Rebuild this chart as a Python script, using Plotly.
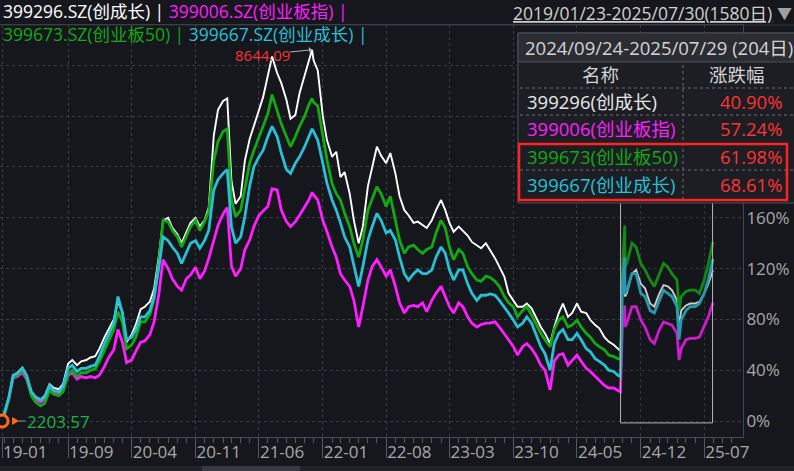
import plotly.graph_objects as go
import pandas as pd

# ---------------- data (percent change since 2019-01-23) ----------------
dates = [
    "2019-01-23", "2019-02-01", "2019-02-15", "2019-03-01", "2019-03-15", "2019-04-01", "2019-04-15",
    "2019-05-01", "2019-05-15", "2019-06-01", "2019-06-15", "2019-07-01", "2019-07-15", "2019-08-01",
    "2019-08-15", "2019-09-01", "2019-09-15", "2019-10-01", "2019-10-15", "2019-11-01", "2019-11-15",
    "2019-12-01", "2019-12-15",
    "2020-01-01", "2020-01-15", "2020-02-01", "2020-02-15", "2020-03-01", "2020-03-15", "2020-04-01",
    "2020-04-15", "2020-05-01", "2020-05-15", "2020-06-01", "2020-06-15", "2020-07-01", "2020-07-15",
    "2020-08-01", "2020-08-15", "2020-09-01", "2020-09-15", "2020-10-01", "2020-10-15", "2020-11-01",
    "2020-11-15", "2020-12-01", "2020-12-15",
    "2021-01-01", "2021-01-15", "2021-02-01", "2021-02-15", "2021-03-01", "2021-03-15", "2021-04-01",
    "2021-04-15", "2021-05-01", "2021-05-15", "2021-06-01", "2021-06-15", "2021-07-01", "2021-07-15",
    "2021-08-01", "2021-08-15", "2021-09-01", "2021-09-15", "2021-10-01", "2021-10-15", "2021-11-01",
    "2021-11-15", "2021-11-26", "2021-12-01", "2021-12-15",
    "2022-01-01", "2022-01-15", "2022-02-01", "2022-02-15", "2022-03-01", "2022-03-15", "2022-04-01",
    "2022-04-15", "2022-05-01", "2022-05-15", "2022-06-01", "2022-06-15", "2022-07-01", "2022-07-15",
    "2022-08-01", "2022-08-15", "2022-09-01", "2022-09-15", "2022-10-01", "2022-10-15", "2022-11-01",
    "2022-11-15", "2022-12-01", "2022-12-15",
    "2023-01-01", "2023-01-15", "2023-02-01", "2023-02-15", "2023-03-01", "2023-03-15", "2023-04-01",
    "2023-04-15", "2023-05-01", "2023-05-15", "2023-06-01", "2023-06-15", "2023-07-01", "2023-07-15",
    "2023-08-01", "2023-08-15", "2023-09-01", "2023-09-15", "2023-10-01", "2023-10-15", "2023-11-01",
    "2023-11-15", "2023-12-01", "2023-12-15",
    "2024-01-01", "2024-01-15", "2024-02-01", "2024-02-15", "2024-03-01", "2024-03-15", "2024-04-01",
    "2024-04-15", "2024-05-01", "2024-05-15", "2024-06-01", "2024-06-15", "2024-07-01", "2024-07-15",
    "2024-08-01", "2024-08-15", "2024-09-01", "2024-09-15", "2024-09-24", "2024-09-27", "2024-09-30",
    "2024-10-08", "2024-10-09", "2024-10-15", "2024-11-01", "2024-11-15", "2024-12-01", "2024-12-15",
    "2025-01-01", "2025-01-15", "2025-02-01", "2025-02-15", "2025-03-01", "2025-03-15", "2025-04-01",
    "2025-04-08", "2025-04-15", "2025-05-01", "2025-05-15", "2025-06-01", "2025-06-15", "2025-07-01",
    "2025-07-15", "2025-07-30",
]

# 399296.SZ 创成长 (white)
s399296 = [
    0, 7, 19, 36, 38, 42, 36, 23, 19, 17, 20, 29, 26, 25, 29, 45, 48, 44, 47, 48, 50, 51, 57,
    66, 72, 80, 94, 86, 62, 68, 76, 88, 90, 94, 104, 130, 158, 160, 152, 147, 140, 148, 156, 160, 153, 158, 168,
    225, 245, 252, 254, 189, 171, 177, 205, 222, 232, 245, 255, 272, 287, 274, 266, 253, 238, 241, 258, 272,
    284, 292.3, 284, 276,
    240, 221, 208, 212, 192, 196, 179, 158, 140, 153, 185, 200, 216, 209, 203, 211, 195, 177, 166, 162, 156,
    157, 154, 152,
    158, 166, 174, 166, 156, 149, 153, 150, 146, 141, 138, 136, 140, 135, 128, 121.5, 113.6, 100.5, 95, 90, 90,
    92.5, 88.7, 82,
    74, 69, 61, 74, 85, 92.5, 82, 85, 92.5, 86, 85, 79.5, 75.5, 73, 66, 62.5, 60, 57, 55, 79.5, 106,
    119, 98, 100.5, 116, 119, 108, 104.5,
    92.5, 90, 100.5, 107, 106, 103, 95, 74, 87, 91, 92.5, 92.5, 94, 100.5, 108, 118.5,
]

# 399006.SZ 创业板指 (magenta)
s399006 = [
    0, 6, 18, 34, 35, 38, 33, 21, 17, 15, 17, 25, 22, 21, 24, 36, 38, 33, 35, 34, 35, 34, 36,
    43, 50, 56, 72, 62, 46, 48, 55, 62, 63, 68, 78, 100, 127, 120, 112, 106, 103, 112, 115, 121, 112, 118, 128,
    143, 154, 163, 168, 122, 114, 120, 135, 142.5, 153, 162, 165, 169, 183, 182, 166, 157, 153, 157, 162, 169,
    174, 180, 178, 174,
    158, 149, 137, 129, 116, 111, 106, 95, 74, 90, 111, 121.5, 127, 121.5, 114, 119, 106, 93, 85, 90, 91,
    90, 93, 86,
    95, 100.5, 106, 98, 90, 85, 93, 90, 82, 77, 74, 76, 77, 77, 78, 74, 68, 64, 58.5, 52, 58.5,
    61, 57, 52,
    44, 40, 24.4, 47, 52, 53, 44, 48, 52, 47, 41.5, 39, 35, 32, 28, 26, 26, 24, 23, 48, 74,
    91, 74, 77, 90, 90, 79.5, 74,
    64, 61, 72, 78, 77, 75.5, 69, 48, 57, 64, 65, 65, 66, 74, 82, 93,
]

# 399673.SZ 创业板50 (green)
s399673 = [
    0, 6, 18, 35, 36, 40, 34, 20, 15, 12, 14, 24, 21, 20, 23, 37, 40, 35, 38, 38, 40, 41, 47,
    56, 63, 72, 86, 78, 57, 60, 66, 78, 78, 84, 96, 125, 158, 157, 150, 145, 137, 145, 153, 158, 150, 157, 165,
    205, 220, 228, 230, 174, 161, 166, 182, 203, 213, 224, 232, 242, 257, 245, 234, 224, 216, 224, 232, 240,
    249, 254, 251, 248,
    224, 205.5, 187, 179, 174, 163.5, 153, 140, 129, 142.5, 166, 174, 184.5, 179, 169, 177, 158, 142.5, 132,
    137, 138.5, 135, 132, 135,
    137, 148, 158, 152, 137, 127, 135, 132, 121.5, 116, 111, 110, 114, 113, 110, 106, 98, 93, 90, 82, 87,
    90, 83.5, 77,
    69, 64, 58.5, 72, 79.5, 82, 74, 75.5, 79.5, 74, 69, 66, 61, 58.5, 56, 52, 50.7, 49, 48.5, 77, 116,
    154, 121.5, 124, 140, 137, 124, 119,
    111, 106, 116, 124, 121.5, 116, 111, 87, 98, 102, 103, 103, 100.5, 111, 124, 141,
]

# 399667.SZ 创业成长 (cyan)
s399667 = [
    0, 7, 19, 36, 37.5, 41.5, 36, 23, 19, 16.5, 19, 28, 24, 23, 27, 41.5, 44, 39, 41.5, 41.5, 43, 44, 51,
    61, 68, 77, 98, 85, 64, 66, 72, 82, 82, 87, 98, 121, 145, 142, 137, 132, 124, 132, 140, 142, 136, 142, 150,
    182, 190, 195, 198, 153, 140, 145, 161, 185, 200, 208, 213, 224, 232, 224, 211, 198, 195, 203, 208, 216,
    224, 230, 228, 221,
    203, 187, 174, 166, 156, 145, 137, 121.5, 106, 121.5, 142.5, 153, 163.5, 158, 148, 150, 142.5, 129, 116,
    111, 116, 119, 116, 116,
    119, 129, 137, 132, 119, 111, 119, 119, 108, 100.5, 95, 99, 99, 100, 99, 95, 90, 85, 79.5, 74, 77,
    82, 77, 69,
    58.5, 53, 40, 61, 69, 72, 64, 64, 69, 64, 57, 54.5, 49, 47, 44, 40, 39, 36, 35, 69, 108,
    129, 100, 103, 116, 116, 100.5, 98,
    87, 85, 95, 103, 100.5, 98, 90, 64, 79.5, 87, 90, 90, 92.5, 100.5, 111, 127.5,
]

series_names = ["399296.SZ(创成长)", "399006.SZ(创业板指)", "399673.SZ(创业板50)", "399667.SZ(创业成长)"]
table_names = ["399296(创成长)", "399006(创业板指)", "399673(创业板50)", "399667(创业成长)"]
table_changes = ["40.90%", "57.24%", "61.98%", "68.61%"]
tick_dates = ["2019-01-23", "2019-09-01", "2020-04-01", "2020-11-01", "2021-06-01", "2022-01-01",
              "2022-08-01", "2023-03-01", "2023-10-01", "2024-05-01", "2024-12-01", "2025-07-01"]
tick_labels = ["19-01", "19-09", "20-04", "20-11", "21-06", "22-01", "22-08", "23-03", "23-10",
               "24-05", "24-12", "25-07"]
y_ticks = [0, 40, 80, 120, 160, 200, 240, 280]
y_labels = ["0%", "40%", "80%", "120%", "160%", "", "", ""]
start_close = "2203.57"
peak_close = "8644.09"
peak_date = "2021-11-26"
range_text = "2019/01/23-2025/07/30(1580日)"
table_title = "2024/09/24-2025/07/29 (204日)"
box_start, box_end = "2024-09-24", "2025-07-29"

# ---------------- styling ----------------
BG = "#15171c"
WHITE = "#ffffff"
MAGENTA = "#ff1eff"
GREEN = "#14a814"
CYAN = "#29bfd5"
RED = "#ff3333"
GRID = "#3a3d44"
FONT = "Open Sans, Noto Sans CJK SC, sans-serif"

W, H = 794, 471
L, R, T, B = 0, 743, 25, 437   # plot-area pixel box


def px(x):
    return x / (R - L)


def py(y):
    return (B - y) / (B - T)


fig = go.Figure()
for vals, col, wdt in [(s399296, WHITE, 1.9), (s399006, MAGENTA, 2.8),
                       (s399673, GREEN, 2.8), (s399667, CYAN, 2.8)]:
    fig.add_trace(go.Scatter(x=dates, y=vals, mode="lines", line=dict(color=col, width=wdt),
                             hoverinfo="skip", showlegend=False))

# start marker (orange ring)
fig.add_trace(go.Scatter(x=[dates[0]], y=[s399673[0]], mode="markers", cliponaxis=False,
                         marker=dict(size=12, color=BG, line=dict(color="#ff6a13", width=3)),
                         showlegend=False, hoverinfo="skip"))

minor_ticks = [d.strftime("%Y-%m-%d") for d in pd.date_range("2019-02-01", "2025-10-01", freq="MS")]

fig.update_layout(
    width=W, height=H,
    paper_bgcolor=BG, plot_bgcolor=BG,
    margin=dict(l=L, r=W - R, t=T, b=H - B, pad=0),
    font=dict(family=FONT, color="#a8a8a8", size=17),
    showlegend=False,
    xaxis=dict(
        type="date", range=["2019-01-16", "2025-11-08"],
        tickmode="array", tickvals=tick_dates, ticktext=tick_labels,
        ticks="outside", ticklen=20, tickcolor="#55585f", tickwidth=1,
        ticklabelposition="outside right", ticklabelstandoff=0,
        tickfont=dict(size=17, color="#a8a8a8"),
        showgrid=True, gridcolor=GRID, griddash="dot", gridwidth=1,
        showline=True, linecolor="#4a4d54", linewidth=1, mirror=True,
        zeroline=False,
        minor=dict(tickmode="array", tickvals=minor_ticks, ticks="outside", ticklen=5,
                   tickcolor="#55585f", showgrid=False),
    ),
    yaxis=dict(
        side="right", range=[-12.6, 311.8],
        tickmode="array", tickvals=y_ticks, ticktext=y_labels,
        ticks="", tickfont=dict(size=17, color="#a8a8a8"), ticklabelstandoff=-1,
        showgrid=True, gridcolor=GRID, griddash="dot", gridwidth=1,
        showline=True, linecolor="#42454c", linewidth=1,
        zeroline=False,
    ),
)

shapes = []
# highlighted period box (dims lines a little)
shapes.append(dict(type="rect", xref="x", yref="y", x0=box_start, x1=box_end, y0=-1.5, y1=200,
                   line=dict(color="#b4b4b4", width=1), fillcolor="rgba(21,23,28,0.22)", layer="above"))
# start label connector line + triangle
shapes.append(dict(type="line", xref="x", yref="y", xsizemode="pixel", xanchor=dates[0],
                   x0=17, x1=23, y0=0, y1=0, line=dict(color="#9a9a9a", width=1), layer="above"))
shapes.append(dict(type="path", xref="x", yref="y", xsizemode="pixel", xanchor=dates[0],
                   ysizemode="pixel", yanchor=0, path="M 10 -4 L 17 0 L 10 4 Z",
                   fillcolor="#ff6a13", line=dict(width=0), layer="above"))
# table
tx0, tx1 = 518, 805
shapes.append(dict(type="rect", xref="paper", yref="paper", x0=px(tx0), x1=px(tx1), y0=py(203), y1=py(33),
                   fillcolor="#1c1e23", line=dict(color="#4e5159", width=1), layer="above"))
shapes.append(dict(type="rect", xref="paper", yref="paper", x0=px(tx0), x1=px(tx1), y0=py(62), y1=py(33),
                   fillcolor="#2b2d33", line=dict(color="#4e5159", width=1), layer="above"))
for yy in [88, 115, 170]:
    shapes.append(dict(type="line", xref="paper", yref="paper", x0=px(tx0 + 2), x1=px(tx1), y0=py(yy), y1=py(yy),
                       line=dict(color="#6a6d74", width=1, dash="dot"), layer="above"))
shapes.append(dict(type="line", xref="paper", yref="paper", x0=px(683), x1=px(683), y0=py(200), y1=py(62),
                   line=dict(color="#6a6d74", width=1, dash="dot"), layer="above"))
shapes.append(dict(type="rect", xref="paper", yref="paper", x0=px(519), x1=px(787), y0=py(200), y1=py(144),
                   line=dict(color="#ff2424", width=2.5), fillcolor="rgba(0,0,0,0)", layer="above"))
# top separator line
shapes.append(dict(type="line", xref="paper", yref="paper", x0=0, x1=px(W), y0=py(25), y1=py(25),
                   line=dict(color="#2f3239", width=1), layer="above"))
# bottom tab strip
shapes.append(dict(type="rect", xref="paper", yref="paper", x0=0, x1=px(W), y0=py(472), y1=py(466),
                   fillcolor="#202328", line=dict(width=0), layer="above"))
shapes.append(dict(type="rect", xref="paper", yref="paper", x0=px(202), x1=px(300), y0=py(472), y1=py(466),
                   fillcolor="#373a40", line=dict(width=0), layer="above"))
fig.update_layout(shapes=shapes)

ann = []


def text(x, y, s, color, size=18, xanchor="left", **kw):
    ann.append(dict(xref="paper", yref="paper", x=px(x), y=py(y), text=s, showarrow=False,
                    xanchor=xanchor, yanchor="middle", borderpad=0,
                    font=dict(family=FONT, size=size, color=color), **kw))


# legend lines
text(2, 11, f"<span style='color:{WHITE}'>{series_names[0]} | </span>"
            f"<span style='color:{MAGENTA}'>{series_names[1]} |</span>", WHITE, size=17.5)
text(2, 34, f"<span style='color:{GREEN}'>{series_names[2]} | </span>"
            f"<span style='color:{CYAN}'>{series_names[3]} |</span>", GREEN, size=17.5)
# date range
text(773, 13, f"<u>{range_text}</u>", "#d0d0d0", size=17.5, xanchor="right")
text(784, 13, "▼", "#a0a0a0", size=15, xanchor="center")
# table texts
text(524, 48, table_title, "#d4d4d4", size=18.5)
text(600, 75, "名称", "#d4d4d4", size=18.5, xanchor="center")
text(737, 75, "涨跌幅", "#d4d4d4", size=18.5, xanchor="center")
row_cols = ["#e8e8e8", MAGENTA, GREEN, CYAN]
for i, (nm, ch) in enumerate(zip(table_names, table_changes)):
    yy = 101 + i * 27.7
    text(526, yy, nm, row_cols[i], size=18.5)
    text(783, yy, ch, RED, size=18.5, xanchor="right")

# start value label
ann.append(dict(xref="x", yref="y", x=dates[0], y=0, xshift=23, text=start_close, showarrow=False,
                xanchor="left", yanchor="middle", font=dict(family=FONT, size=17, color="#1fb04a")))
# peak label
ann.append(dict(xref="x", yref="y", x=peak_date, y=max(s399296), text=peak_close, showarrow=True,
                ax=-50, ay=5, arrowhead=1, arrowsize=1, arrowwidth=1, arrowcolor="#b0b0b0", borderpad=0,
                font=dict(family=FONT, size=15, color="#ff3030")))
fig.update_layout(annotations=ann)

fig.write_html("out.html", config={"displayModeBar": False},
               post_script="document.body.style.margin='0px';document.body.style.overflow='hidden';")
